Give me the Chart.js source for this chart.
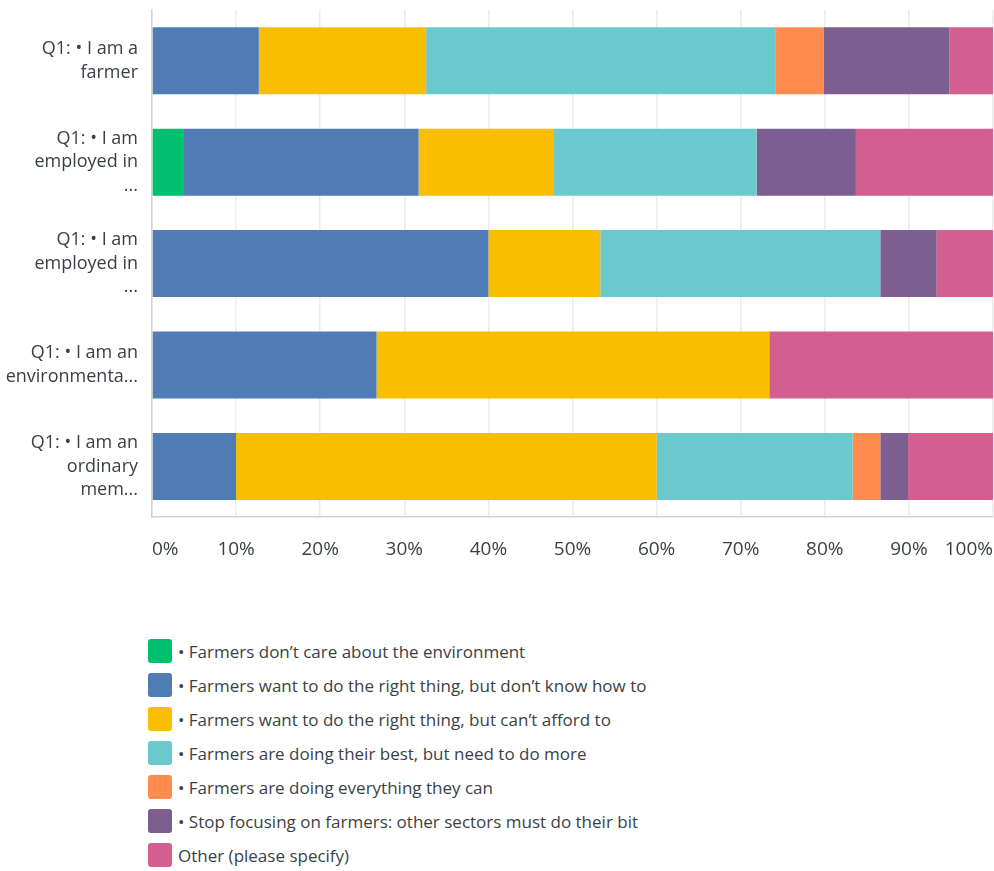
<!DOCTYPE html>
<html>
<head>
<meta charset="utf-8">
<title>Q1 responses</title>
<script src="https://cdn.jsdelivr.net/npm/chart.js@4.4.1/dist/chart.umd.min.js"></script>
<style>
  html, body { margin: 0; background: #fff; overflow: hidden; font-family: "Open Sans", sans-serif; }
  #wrap { position: relative; width: 994px; height: 582px; }
  #legend { list-style: none; margin: 52px 0 0 148px; padding: 0; }
  #legend li { display: flex; align-items: center; height: 34px; font-size: 17px; color: #3a3f46; }
  #legend .box { width: 24px; height: 24px; border-radius: 3px; margin-right: 6px; flex: none; }
</style>
</head>
<body>
<div id="wrap"><canvas id="chart"></canvas></div>
<ul id="legend"></ul>
<script>
// respondent groups (y axis)
const categories = [
  ['Q1: • I am a', 'farmer'],
  ['Q1: • I am', 'employed in', '...'],
  ['Q1: • I am', 'employed in', '...'],
  ['Q1: • I am an', 'environmenta...'],
  ['Q1: • I am an', 'ordinary', 'mem...']
];

// answer shares in %, one value per group
const dontCare     = [0, 3.8, 0, 0, 0];
const dontKnowHow  = [12.7, 27.9, 40.0, 26.7, 10.0];
const cantAfford   = [19.9, 16.1, 13.3, 46.7, 50.0];
const doingBest    = [41.5, 24.1, 33.3, 0, 23.3];
const doingAll     = [5.8, 0, 0, 0, 3.3];
const otherSectors = [14.9, 11.8, 6.7, 0, 3.3];
const otherAnswer  = [5.2, 16.3, 6.7, 26.6, 10.1];

const xTicks = [0, 10, 20, 30, 40, 50, 60, 70, 80, 90, 100];

const seriesNames = [
  '• Farmers don’t care about the environment',
  '• Farmers want to do the right thing, but don’t know how to',
  '• Farmers want to do the right thing, but can’t afford to',
  '• Farmers are doing their best, but need to do more',
  '• Farmers are doing everything they can',
  '• Stop focusing on farmers: other sectors must do their bit',
  'Other (please specify)'
];
const seriesValues = [dontCare, dontKnowHow, cantAfford, doingBest, doingAll, otherSectors, otherAnswer];
const seriesColors = ['#00bf6f', '#507cb6', '#f9be00', '#6bc8cd', '#ff8b4f', '#7d5e90', '#d25f90'];

const textColor = '#3a3f46';
const font = 'Open Sans';

const chart = new Chart(document.getElementById('chart'), {
  type: 'bar',
  data: {
    labels: categories,
    datasets: seriesNames.map((name, i) => ({
      label: name,
      data: seriesValues[i],
      backgroundColor: seriesColors[i],
      borderWidth: 0,
      categoryPercentage: 1,
      barPercentage: 0.66
    }))
  },
  options: {
    indexAxis: 'y',
    responsive: true,
    maintainAspectRatio: false,
    animation: false,
    layout: { padding: { top: 10, right: 1, bottom: 0, left: 0 } },
    plugins: {
      legend: { display: false },
      tooltip: { enabled: false }
    },
    scales: {
      x: {
        stacked: true,
        min: 0,
        max: 100,
        afterBuildTicks: scale => { scale.ticks = xTicks.map(v => ({ value: v })); },
        // edge labels are aligned inward, so no side padding is needed
        afterFit: scale => { scale.paddingLeft = 0; scale.paddingRight = 0; },
        ticks: {
          align: 'inner',
          padding: 21,
          color: textColor,
          font: { family: font, size: 19 },
          callback: v => v + '%'
        },
        grid: { color: '#ebebeb', lineWidth: 1.5, drawTicks: false },
        border: { color: '#d4d4d4', width: 1.5 }
      },
      y: {
        stacked: true,
        afterFit: scale => {
          scale.width = 152;
          scale.paddingTop = 0;
          scale.paddingBottom = 0;
        },
        ticks: {
          padding: 14,
          color: textColor,
          font: { family: font, size: 18, lineHeight: 1.3 }
        },
        grid: { display: false, drawTicks: false },
        border: { color: '#d4d4d4', width: 1.5 }
      }
    }
  }
});

// legend list, one entry per line
const legendEl = document.getElementById('legend');
chart.data.datasets.forEach(ds => {
  const li = document.createElement('li');
  const box = document.createElement('span');
  box.className = 'box';
  box.style.background = ds.backgroundColor;
  li.appendChild(box);
  li.appendChild(document.createTextNode(ds.label));
  legendEl.appendChild(li);
});
</script>
</body>
</html>
